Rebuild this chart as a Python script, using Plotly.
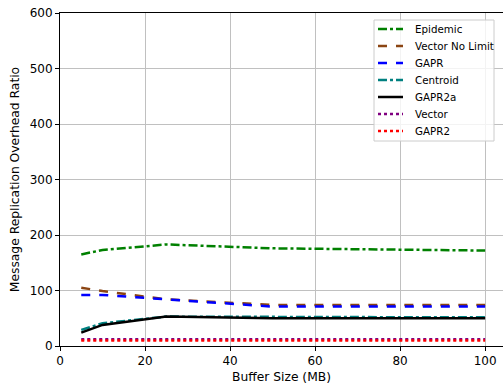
import plotly.graph_objects as go

buffer_sizes = [5, 10, 25, 50, 75, 100]
epidemic = [165, 173, 183, 176, 174, 172]
vector_no_limit = [105, 99, 84, 74, 74, 74]
gapr = [92, 92, 84, 71, 71, 71]
centroid = [29, 41, 53, 52, 52, 52]
gapr2a = [24, 38, 53, 50, 50, 50]
vector = [12, 12, 12, 12, 12, 12]
gapr2 = [10, 10, 10, 10, 10, 10]

series_names = ["Epidemic", "Vector No Limit", "GAPR", "Centroid", "GAPR2a", "Vector", "GAPR2"]
series_values = [epidemic, vector_no_limit, gapr, centroid, gapr2a, vector, gapr2]
series_colors = ["#008000", "#8B4513", "#0000ff", "#008080", "#000000", "#800080", "#ff0000"]
series_dashes = ["dashdot", "dash", "dash", "dashdot", "solid", "dot", "dot"]

# plot-area pixel geometry (for legend placement in paper coords)
L, R, T, B = 60, 503, 13, 346
def px(x):
    return (x - L) / (R - L)
def py(y):
    return (B - y) / (B - T)

fig = go.Figure()
for name, vals, color, dash in zip(series_names, series_values, series_colors, series_dashes):
    fig.add_trace(go.Scatter(x=buffer_sizes, y=vals, name=name, mode="lines",
                             line=dict(color=color, dash=dash, width=2.5),
                             showlegend=False))

font = "DejaVu Sans"

# legend box drawn in paper coordinates
shapes = [dict(type="rect", xref="paper", yref="paper",
               x0=px(374), x1=px(494), y0=py(141), y1=py(20),
               line=dict(color="#cccccc", width=1), fillcolor="rgba(255,255,255,0.8)",
               layer="above")]
annotations = []
row0, step = 29, 17.0
for i, (name, color, dash) in enumerate(zip(series_names, series_colors, series_dashes)):
    yy = row0 + i * step
    shapes.append(dict(type="line", xref="paper", yref="paper",
                       x0=px(378), x1=px(403), y0=py(yy), y1=py(yy),
                       line=dict(color=color, dash=dash, width=2.5), layer="above"))
    annotations.append(dict(xref="paper", yref="paper", x=px(413), y=py(yy),
                            xanchor="left", yanchor="middle", text=name, showarrow=False,
                            font=dict(family=font, size=10.3, color="black")))

fig.update_layout(
    width=503, height=388,
    margin=dict(l=60, r=0, t=13, b=42),
    plot_bgcolor="white", paper_bgcolor="white",
    font=dict(family=font, size=11, color="black"),
    showlegend=False,
    shapes=shapes,
    annotations=annotations,
    xaxis=dict(range=[0, 104.2], tickvals=[0, 20, 40, 60, 80, 100],
               showgrid=True, gridcolor="#c0c0c0", gridwidth=1, zeroline=False,
               showline=True, linecolor="black", linewidth=1, mirror=True,
               ticks="outside", ticklen=4, tickcolor="black",
               tickfont=dict(size=12),
               title=dict(text="Buffer Size (MB)", font=dict(size=12.3), standoff=4)),
    yaxis=dict(range=[0, 600], tickvals=[0, 100, 200, 300, 400, 500, 600],
               showgrid=True, gridcolor="#c0c0c0", gridwidth=1, zeroline=False,
               showline=True, linecolor="black", linewidth=1, mirror=False,
               ticks="outside", ticklen=4, tickcolor="black",
               tickfont=dict(size=12),
               title=dict(text="Message Replication Overhead Ratio", font=dict(size=12.3), standoff=7)),
)

fig.write_html("out.html", config={"displayModeBar": False},
               post_script="document.body.style.margin='0';document.body.style.overflow='hidden';")
